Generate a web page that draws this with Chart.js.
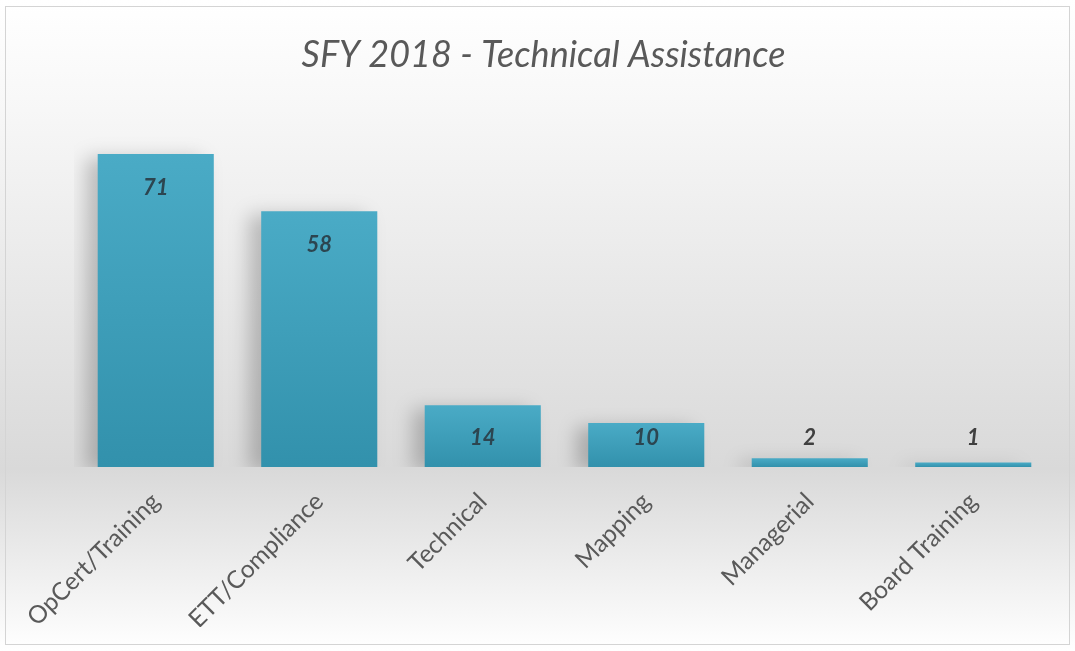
<!DOCTYPE html>
<html>
<head>
<meta charset="utf-8">
<script src="https://cdn.jsdelivr.net/npm/chart.js@4"></script>
<style>
  html, body { margin: 0; padding: 0; background: #fff; }
  #wrap { width: 1075px; height: 651px; }
</style>
</head>
<body>
<div id="wrap"><canvas id="chart" width="1075" height="651"></canvas></div>
<script>
// chart data
var categories = ['OpCert/Training', 'ETT/Compliance', 'Technical', 'Mapping', 'Managerial', 'Board Training'];
var counts = [71, 58, 14, 10, 2, 1];
var chartTitle = 'SFY 2018 - Technical Assistance';

// background gradient + frame
var bgPlugin = {
    id: 'bg',
    beforeDraw: function(chart) {
        var ctx = chart.ctx;
        var h = chart.height;
        var g = ctx.createLinearGradient(0, 0, 0, h);
        g.addColorStop(0, '#ffffff');
        g.addColorStop(0.15, '#f8f8f8');
        g.addColorStop(0.72, '#d9d9d9');
        g.addColorStop(1, '#ffffff');
        ctx.save();
        ctx.fillStyle = g;
        ctx.fillRect(0, 0, chart.width, h);
        ctx.strokeStyle = '#d4d4d4';
        ctx.lineWidth = 1;
        ctx.strokeRect(5.5, 6.5, chart.width - 11, h - 13);
        ctx.restore();
    }
};

// soft shadow behind the bars
var shadowPlugin = {
    id: 'barShadow',
    beforeDatasetsDraw: function(chart) {
        var ctx = chart.ctx;
        ctx.save();
        ctx.shadowColor = 'rgba(0,0,0,0.22)';
        ctx.shadowBlur = 18;
        ctx.shadowOffsetX = -12;
        ctx.shadowOffsetY = 4;
    },
    afterDatasetsDraw: function(chart) {
        chart.ctx.restore();
    }
};

// value labels, inside end of bar (or above if bar is too short)
var valuePlugin = {
    id: 'values',
    afterDatasetsDraw: function(chart) {
        var ctx = chart.ctx;
        var meta = chart.getDatasetMeta(0);
        ctx.save();
        ctx.font = 'italic bold 22px Lato';
        ctx.textAlign = 'center';
        ctx.textBaseline = 'middle';
        meta.data.forEach(function(bar, i) {
            var y = Math.min(bar.y + 34, bar.base - 29);
            ctx.fillStyle = y < bar.y ? '#404040' : '#2c4550';
            ctx.fillText(String(counts[i]), bar.x, y);
        });
        ctx.restore();
    }
};

function barFill(context) {
    var chart = context.chart;
    var y = chart.scales.y;
    if (!chart.chartArea || !y) return '#3fa0bb';
    var top = y.getPixelForValue(context.raw);
    var bottom = y.getPixelForValue(0);
    if (bottom - top < 2) return '#3a98b3';
    var g = chart.ctx.createLinearGradient(0, top, 0, bottom);
    g.addColorStop(0, '#4aabc6');
    g.addColorStop(1, '#3291ac');
    return g;
}

var ctx = document.getElementById('chart');
var myChart = new Chart(ctx, {
    type: 'bar',
    data: {
        labels: categories,
        datasets: [{
            label: 'Technical Assistance',
            data: counts,
            backgroundColor: barFill,
            borderWidth: 0,
            categoryPercentage: 0.71,
            barPercentage: 1
        }]
    },
    options: {
        responsive: false,
        animation: false,
        layout: {
            padding: { left: 32, right: 20, top: 34, bottom: 24 }
        },
        plugins: {
            legend: { display: false },
            tooltip: { enabled: false },
            title: {
                display: true,
                text: chartTitle,
                color: '#595959',
                font: { family: 'Lato', size: 36, style: 'italic', weight: 'normal' },
                padding: { top: 0, bottom: 37 }
            }
        },
        scales: {
            x: {
                grid: { display: false },
                border: { display: false },
                ticks: {
                    color: '#595959',
                    font: { family: 'Lato', size: 24.5 },
                    minRotation: 45,
                    maxRotation: 45,
                    padding: 12
                },
                afterFit: function(scale) { scale.height = 160; }
            },
            y: {
                display: true,
                min: 0,
                max: 80,
                grid: { display: false },
                border: { display: false },
                ticks: { display: false },
                afterFit: function(scale) { scale.width = 42; }
            }
        }
    },
    plugins: [bgPlugin, shadowPlugin, valuePlugin]
});
</script>
</body>
</html>
